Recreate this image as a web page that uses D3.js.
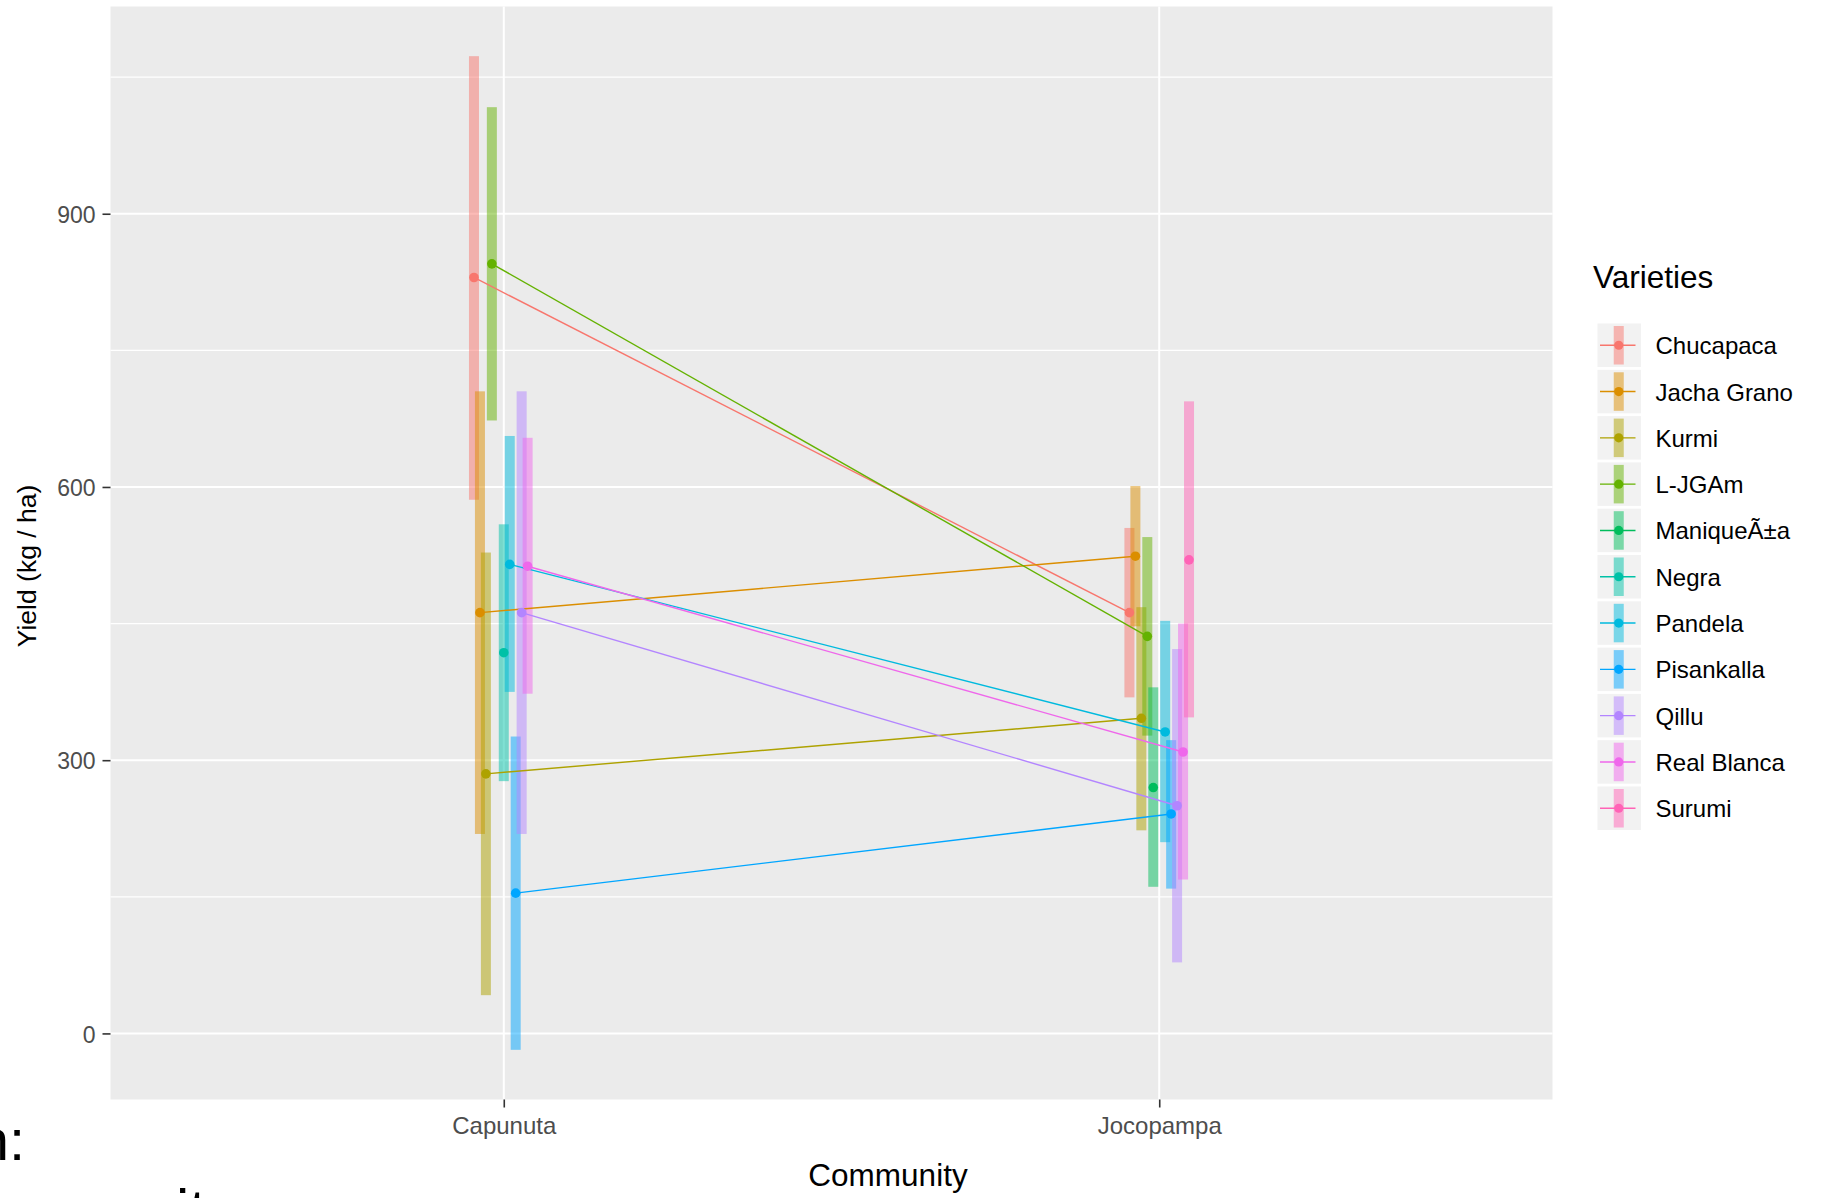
<!DOCTYPE html>
<html>
<head>
<meta charset="utf-8">
<script src="https://cdn.jsdelivr.net/npm/d3@7/dist/d3.min.js"></script>
<style>
  html, body { margin: 0; padding: 0; background: #ffffff; }
  svg { display: block; font-family: "Liberation Sans", Arial, sans-serif; }
</style>
</head>
<body>
<svg id="chart" width="1825" height="1198"></svg>
<script>
// Communities on the x axis, varieties as colour groups
const communities = ["Capunuta", "Jocopampa"];
const varieties = ["Chucapaca", "Jacha Grano", "Kurmi", "L-JGAm", "ManiqueÃ±a",
                   "Negra", "Pandela", "Pisankalla", "Qillu", "Real Blanca", "Surumi"];
const varietyColors = ["#F8766D", "#DB8E00", "#AEA200", "#64B200", "#00BD5C",
                       "#00C1A7", "#00BADE", "#00A6FF", "#B385FF", "#EF67EB", "#FF63B6"];

// Mean yield (kg/ha) and interval bounds per variety; null = not grown there
const meanCapunuta  = [830, 462, 285, 845, null, 418, 515, 154, 462, 513, null];
const lowCapunuta   = [586, 219,  42, 673, null, 277, 375, -18, 219, 373, null];
const highCapunuta  = [1073, 705, 528, 1017, null, 559, 656, 326, 705, 654, null];

const meanJocopampa = [462, 524, 346, 436, 270, null, 331, 241, 250, 309, 520];
const lowJocopampa  = [369, 447, 223, 327, 161, null, 210, 159,  78, 169, 347];
const highJocopampa = [555, 601, 468, 545, 380, null, 453, 322, 422, 450, 694];

const yMajorTicks = [0, 300, 600, 900];
const yMinorTicks = [150, 450, 750, 1050];

const means = [meanCapunuta, meanJocopampa];
const lows  = [lowCapunuta, lowJocopampa];
const highs = [highCapunuta, highJocopampa];

// Long-format records built from the arrays above
const records = [];
communities.forEach((c, ci) => {
  varieties.forEach((v, vi) => {
    if (means[ci][vi] == null) return;
    records.push({ community: c, variety: v, vi: vi,
                   mean: means[ci][vi], low: lows[ci][vi], high: highs[ci][vi] });
  });
});

const svg = d3.select("#chart");
const panel = { left: 110.5, right: 1552.5, top: 6.5, bottom: 1099.5 };

const x = d3.scalePoint().domain(communities)
  .range([panel.left, panel.right]).padding(0.6);
const dodgeStep = x.step() * 0.1 / varieties.length;
const xPos = d => x(d.community) + (d.vi - (varieties.length - 1) / 2) * dodgeStep;

const yMin = d3.min(records, d => d.low), yMax = d3.max(records, d => d.high);
const pad = (yMax - yMin) * 0.05;
const y = d3.scaleLinear().domain([yMin - pad, yMax + pad])
  .range([panel.bottom, panel.top]);

const color = d3.scaleOrdinal().domain(varieties).range(varietyColors);

// Panel background and grid
svg.append("rect")
  .attr("x", panel.left).attr("y", panel.top)
  .attr("width", panel.right - panel.left).attr("height", panel.bottom - panel.top)
  .attr("fill", "#EBEBEB");

const grid = svg.append("g");
grid.selectAll("line.minor").data(yMinorTicks).join("line")
  .attr("class", "minor")
  .attr("x1", panel.left).attr("x2", panel.right)
  .attr("y1", d => y(d)).attr("y2", d => y(d))
  .attr("stroke", "#ffffff").attr("stroke-width", 1.3);
grid.selectAll("line.major").data(yMajorTicks).join("line")
  .attr("class", "major")
  .attr("x1", panel.left).attr("x2", panel.right)
  .attr("y1", d => y(d)).attr("y2", d => y(d))
  .attr("stroke", "#ffffff").attr("stroke-width", 2);
grid.selectAll("line.vmajor").data(communities).join("line")
  .attr("class", "vmajor")
  .attr("x1", d => x(d)).attr("x2", d => x(d))
  .attr("y1", panel.top).attr("y2", panel.bottom)
  .attr("stroke", "#ffffff").attr("stroke-width", 2);

// Interval bars
const barW = 10;
svg.append("g").selectAll("rect").data(records).join("rect")
  .attr("x", d => xPos(d) - barW / 2)
  .attr("width", barW)
  .attr("y", d => y(d.high))
  .attr("height", d => y(d.low) - y(d.high))
  .attr("fill", d => color(d.variety))
  .attr("fill-opacity", 0.5);

// Lines joining each variety across communities
const lineGen = d3.line().x(d => xPos(d)).y(d => y(d.mean));
const byVariety = d3.group(records, d => d.variety);
svg.append("g").selectAll("path")
  .data(Array.from(byVariety.values()).filter(g => g.length > 1))
  .join("path")
  .attr("d", g => lineGen(g))
  .attr("fill", "none")
  .attr("stroke", g => color(g[0].variety))
  .attr("stroke-width", 1.4);

// Mean points
svg.append("g").selectAll("circle").data(records).join("circle")
  .attr("cx", d => xPos(d)).attr("cy", d => y(d.mean))
  .attr("r", 4.8)
  .attr("fill", d => color(d.variety));

// Y axis
const yAxis = svg.append("g")
  .attr("transform", `translate(${panel.left},0)`)
  .call(d3.axisLeft(y).tickValues(yMajorTicks).tickSize(8).tickPadding(7).tickFormat(d3.format("d")));
yAxis.select(".domain").remove();
yAxis.selectAll(".tick line").attr("stroke", "#333333").attr("stroke-width", 1.6);
yAxis.selectAll(".tick text")
  .attr("fill", "#4D4D4D").attr("font-size", 23)
  .attr("font-family", "'Liberation Sans', Arial, sans-serif")
  .attr("dy", "0.38em");

// X axis
const xAxis = svg.append("g")
  .attr("transform", `translate(0,${panel.bottom})`)
  .call(d3.axisBottom(x).tickSize(8).tickPadding(8));
xAxis.select(".domain").remove();
xAxis.selectAll(".tick line").attr("stroke", "#333333").attr("stroke-width", 1.6);
xAxis.selectAll(".tick text")
  .attr("fill", "#4D4D4D").attr("font-size", 24)
  .attr("font-family", "'Liberation Sans', Arial, sans-serif")
  .attr("dy", "0.76em");

// Axis titles
svg.append("text")
  .attr("x", 888).attr("y", 1186)
  .attr("text-anchor", "middle")
  .attr("font-size", 31.5).attr("fill", "#000000")
  .text("Community");
svg.append("text")
  .attr("transform", "translate(36,566) rotate(-90)")
  .attr("text-anchor", "middle")
  .attr("font-size", 26.5).attr("fill", "#000000")
  .text("Yield (kg / ha)");

// Legend
const legend = svg.append("g");
legend.append("text")
  .attr("x", 1593).attr("y", 288)
  .attr("font-size", 31.5).attr("fill", "#000000")
  .text("Varieties");
const keyX = 1597.5, keyY0 = 323.5, keySize = 43.5, keyStep = 46.3;
const keys = legend.selectAll("g.key").data(varieties).join("g")
  .attr("class", "key")
  .attr("transform", (d, i) => `translate(${keyX},${keyY0 + i * keyStep})`);
keys.append("rect")
  .attr("width", keySize).attr("height", keySize)
  .attr("fill", "#F2F2F2");
keys.append("rect")
  .attr("x", keySize / 2 - barW / 2 - 0.5).attr("y", 2.5)
  .attr("width", barW).attr("height", keySize - 5)
  .attr("fill", d => color(d)).attr("fill-opacity", 0.5);
keys.append("line")
  .attr("x1", 2.5).attr("x2", keySize - 5.5)
  .attr("y1", keySize / 2).attr("y2", keySize / 2)
  .attr("stroke", d => color(d)).attr("stroke-width", 1.4);
keys.append("circle")
  .attr("cx", keySize / 2 - 0.5).attr("cy", keySize / 2)
  .attr("r", 4.6).attr("fill", d => color(d));
keys.append("text")
  .attr("x", 58).attr("y", keySize / 2 + 9)
  .attr("font-size", 24).attr("fill", "#000000")
  .text(d => d);

// Fragments of surrounding page text at the lower-left edge
svg.append("text")
  .attr("x", 25).attr("y", 1160)
  .attr("text-anchor", "end")
  .attr("font-size", 58).attr("fill", "#000000")
  .text("n:");
svg.append("text")
  .attr("x", 176).attr("y", 1231)
  .attr("font-size", 60).attr("fill", "#000000")
  .text("it");
</script>
</body>
</html>
